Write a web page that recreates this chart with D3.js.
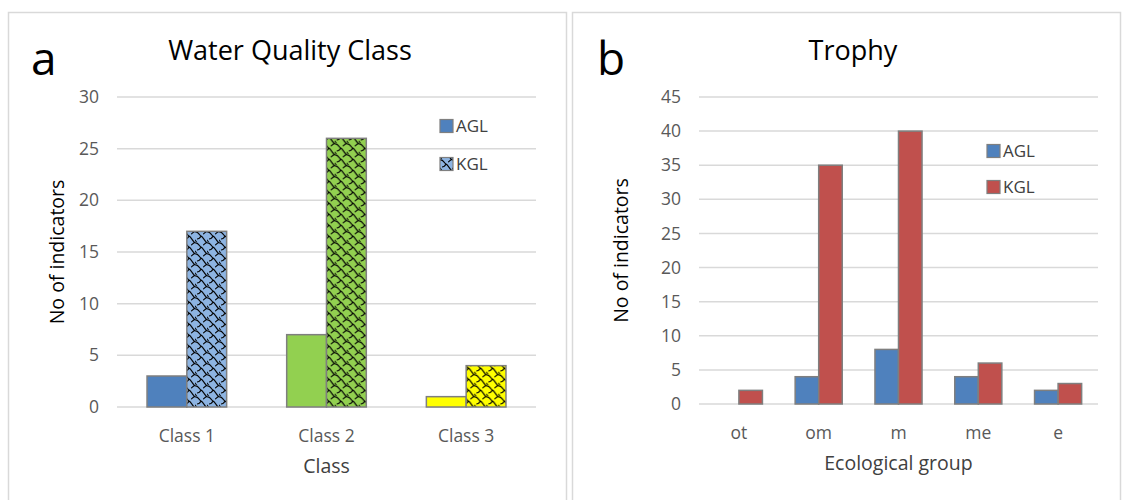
<!DOCTYPE html>
<html>
<head>
<meta charset="utf-8">
<script src="https://cdn.jsdelivr.net/npm/d3@7"></script>
<style>
  body { margin: 0; background: #fff; }
  svg { font-family: "Open Sans", "Noto Sans", sans-serif; }
  .grid line { stroke: #d9d9d9; stroke-width: 1.5; }
  .tick-label { font-size: 17.5px; fill: #595959; }
</style>
</head>
<body>
<svg id="chart" width="1124" height="500"></svg>
<script>
// panel a: water quality class
const classCats = ['Class 1', 'Class 2', 'Class 3'];
const classAGL = [3, 7, 1];
const classKGL = [17, 26, 4];
const classTicks = [0, 5, 10, 15, 20, 25, 30];

// panel b: trophy
const trophyCats = ['ot', 'om', 'm', 'me', 'e'];
const trophyAGL = [0, 4, 8, 4, 2];
const trophyKGL = [2, 35, 40, 6, 3];
const trophyTicks = [0, 5, 10, 15, 20, 25, 30, 35, 40, 45];

const svg = d3.select('#chart');

// shingle-like pattern for the KGL bars in panel a
const defs = svg.append('defs');
const fillsA = ['#8db4e2', '#92d050', '#ffff00'];
fillsA.forEach((c, i) => {
    const p = defs.append('pattern')
        .attr('id', 'shingle' + i)
        .attr('patternUnits', 'userSpaceOnUse')
        .attr('width', 12).attr('height', 11);
    p.append('rect').attr('width', 12).attr('height', 11).attr('fill', c);
    p.append('path')
        .attr('d', 'M0,1 C3,0 4,4 6,5 C8,6 9,9 12,12 M-2,8 C0,8 1,10 2,12 M10,-1 C11,0 12,1 13,1 M6,5 C5,7 4,8 2,8 M12,-0 C10,1 9,3 8,3')
        .attr('fill', 'none')
        .attr('stroke', '#000')
        .attr('stroke-width', 1.1);
});

// panel frames
svg.append('rect').attr('x', 8.5).attr('y', 12.5).attr('width', 558).attr('height', 500)
    .attr('fill', 'none').attr('stroke', '#d9d9d9').attr('stroke-width', 1.5);
svg.append('rect').attr('x', 572.5).attr('y', 12.5).attr('width', 548).attr('height', 500)
    .attr('fill', 'none').attr('stroke', '#d9d9d9').attr('stroke-width', 1.5);

function drawPanel(opt) {
    const g = svg.append('g');
    const x = d3.scaleBand().domain(opt.cats).range([opt.x0, opt.x1]).paddingInner(opt.pad).paddingOuter(opt.pad / 2);
    const y = d3.scaleLinear().domain([0, d3.max(opt.ticks)]).range([opt.y0, opt.y1]);
    const x1 = d3.scaleBand().domain(['AGL', 'KGL']).range([0, x.bandwidth()]);

    // gridlines
    g.append('g').attr('class', 'grid')
        .selectAll('line').data(opt.ticks).join('line')
        .attr('x1', opt.x0).attr('x2', opt.x1)
        .attr('y1', d => y(d)).attr('y2', d => y(d));

    // y tick labels
    g.selectAll('.ytick').data(opt.ticks).join('text')
        .attr('class', 'tick-label')
        .attr('x', opt.x0 - 18)
        .attr('y', d => y(d))
        .attr('dy', '0.35em')
        .attr('text-anchor', 'end')
        .text(d => d);

    // bars
    const groups = g.selectAll('.grp').data(opt.cats).join('g')
        .attr('transform', d => `translate(${x(d)},0)`);
    groups.append('rect')
        .attr('x', x1('AGL'))
        .attr('width', x1.bandwidth())
        .attr('y', (d, i) => y(opt.agl[i]))
        .attr('height', (d, i) => y(0) - y(opt.agl[i]))
        .attr('fill', (d, i) => opt.aglFill(i))
        .attr('stroke', (d, i) => opt.agl[i] > 0 ? '#7f7f7f' : 'none')
        .attr('stroke-width', 1.5);
    groups.append('rect')
        .attr('x', x1('KGL'))
        .attr('width', x1.bandwidth())
        .attr('y', (d, i) => y(opt.kgl[i]))
        .attr('height', (d, i) => y(0) - y(opt.kgl[i]))
        .attr('fill', (d, i) => opt.kglFill(i))
        .attr('stroke', '#7f7f7f')
        .attr('stroke-width', 1.5);

    // category labels
    g.selectAll('.xtick').data(opt.cats).join('text')
        .attr('class', 'tick-label')
        .attr('x', d => x(d) + x.bandwidth() / 2)
        .attr('y', opt.y0 + 35)
        .attr('text-anchor', 'middle')
        .text(d => d);

    // titles
    g.append('text')
        .attr('x', opt.titleX).attr('y', 60)
        .attr('text-anchor', 'middle')
        .attr('font-size', 27).attr('fill', '#000')
        .text(opt.title);
    g.append('text')
        .attr('x', opt.letterX).attr('y', 75)
        .attr('font-size', 46).attr('fill', '#000')
        .text(opt.letter);
    g.append('text')
        .attr('x', (opt.x0 + opt.x1) / 2).attr('y', opt.y0 + 66)
        .attr('text-anchor', 'middle')
        .attr('font-size', 19.5).attr('fill', '#404040')
        .text(opt.xTitle);
    g.append('text')
        .attr('transform', `translate(${opt.yTitleX},${(opt.y0 + opt.y1) / 2}) rotate(-90)`)
        .attr('text-anchor', 'middle')
        .attr('font-size', 19.5).attr('fill', '#000')
        .text('No of indicators');

    // legend
    const lg = g.append('g').attr('transform', `translate(${opt.legX},${opt.legY})`);
    opt.legend.forEach((l, i) => {
        lg.append('rect')
            .attr('x', 0).attr('y', i * opt.legStep - 6.5)
            .attr('width', 13).attr('height', 13)
            .attr('fill', l.fill)
            .attr('stroke', '#7f7f7f').attr('stroke-width', 1.2);
        lg.append('text')
            .attr('x', 16).attr('y', i * opt.legStep)
            .attr('dy', '0.36em')
            .attr('font-size', 17).attr('fill', '#404040')
            .text(l.name);
    });
}

drawPanel({
    cats: classCats, agl: classAGL, kgl: classKGL, ticks: classTicks,
    x0: 117, x1: 536, y0: 407, y1: 97, pad: 0.43,
    aglFill: i => ['#4f81bd', '#92d050', '#ffff00'][i],
    kglFill: i => `url(#shingle${i})`,
    title: 'Water Quality Class', titleX: 290, letter: 'a', letterX: 31,
    xTitle: 'Class', yTitleX: 64,
    legX: 440, legY: 126, legStep: 38,
    legend: [{ name: 'AGL', fill: '#4f81bd' }, { name: 'KGL', fill: 'url(#shingle0)' }]
});

drawPanel({
    cats: trophyCats, agl: trophyAGL, kgl: trophyKGL, ticks: trophyTicks,
    x0: 699, x1: 1098, y0: 404, y1: 97, pad: 0.41,
    aglFill: () => '#4f81bd',
    kglFill: () => '#c0504d',
    title: 'Trophy', titleX: 853, letter: 'b', letterX: 597,
    xTitle: 'Ecological group', yTitleX: 628,
    legX: 987, legY: 151, legStep: 36,
    legend: [{ name: 'AGL', fill: '#4f81bd' }, { name: 'KGL', fill: '#c0504d' }]
});
</script>
</body>
</html>
